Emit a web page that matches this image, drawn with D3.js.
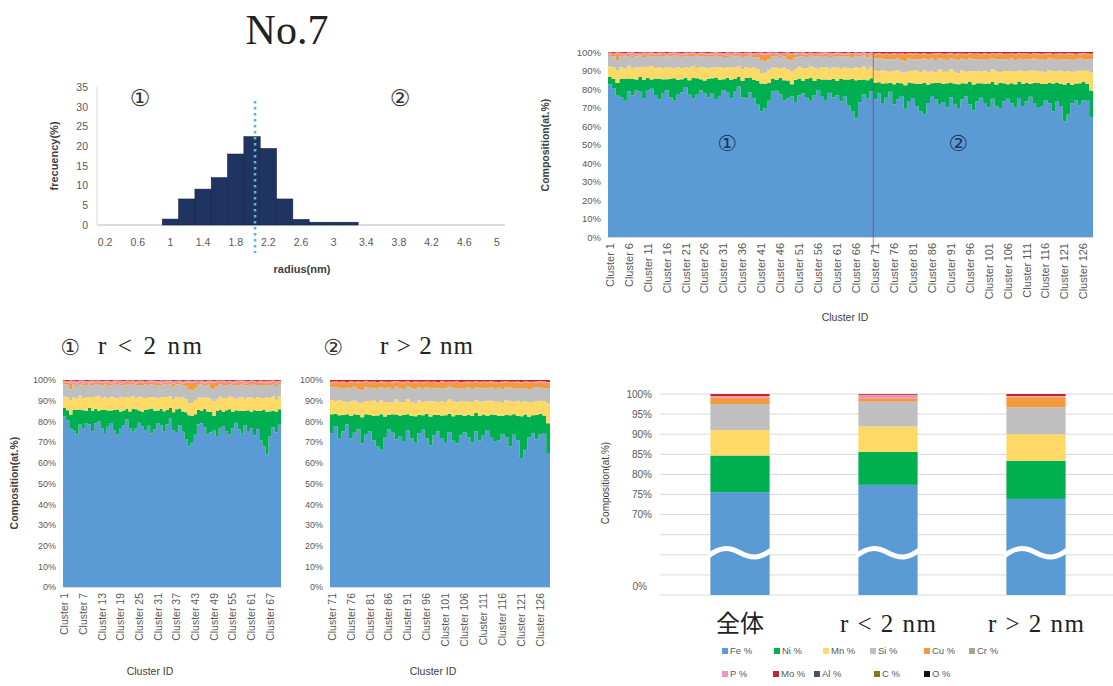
<!DOCTYPE html>
<html><head><meta charset="utf-8">
<script src="https://cdn.jsdelivr.net/npm/d3@7"></script>
<style>body{margin:0;background:#fff}svg{display:block}</style>
</head><body>
<svg id="c" width="1113" height="686"></svg>
<script>
// ---------- DATA ----------
// Histogram
const binLabels = ["0.2","0.4","0.6","0.8","1","1.2","1.4","1.6","1.8","2","2.2","2.4","2.6","2.8","3","3.2","3.4","3.6","3.8","4","4.2","4.4","4.6","4.8","5"];
const binTickLabels = ["0.2","0.6","1","1.4","1.8","2.2","2.6","3","3.4","3.8","4.2","4.6","5"];
const frequency = [0,0,0,0,1.5,6.6,9.1,12,18,22.4,19.4,6.6,1.4,0.7,0.7,0.7,0,0,0,0,0,0,0,0,0];
const freqTicks = [0,5,10,15,20,25,30,35];
const thresholdBin = "2";

// Cluster compositions (at.%), clusters 1..128 (1-70: r<2nm, 71-128: r>2nm)
const fe = [
82,81,78,75,74,79,77,80,78,76,
79,81,77,74,78,80,76,73,77,79,
81,78,75,77,80,79,76,78,74,77,
80,78,76,79,81,77,75,78,76,72,
68,70,75,78,80,77,74,76,79,73,
76,78,75,72,77,79,76,74,78,75,
77,73,76,70,66,62,72,76,74,78,
74,78,72,76,79,73,75,77,71,74,
76,72,68,66,73,77,75,72,74,70,
76,73,71,75,77,72,69,74,76,73,
71,75,72,70,74,76,73,71,75,72,
74,77,73,70,72,75,73,68,74,71,
62,66,73,75,72,74,76,63];
const ni = [
4,5,7,10,12,7,9,6,8,10,
7,5,9,11,8,6,10,12,8,7,
5,8,11,9,6,7,10,8,12,9,
6,8,10,7,5,9,11,8,10,13,
15,13,10,7,6,9,11,10,7,12,
9,7,10,12,8,6,9,11,7,10,
8,12,9,14,17,20,12,8,10,7,
9,6,11,8,5,11,9,7,13,10,
8,12,15,17,10,7,9,12,10,13,
8,11,13,9,7,12,14,10,8,11,
13,9,12,14,10,8,11,13,9,12,
10,7,11,13,12,9,11,15,10,12,
20,17,10,9,12,10,9,14];
const mn = [
5.5,6.2,7.0,6.1,5.4,6.8,5.9,6.6,5.2,6.9,
6.0,7.3,5.6,6.4,5.8,6.7,6.1,5.3,7.1,6.2,
5.7,6.9,6.3,5.5,6.6,7.2,5.9,6.0,5.4,6.8,
6.1,5.6,7.0,6.3,5.8,6.5,6.0,5.2,6.9,6.4,
5.7,6.2,7.1,5.9,6.6,5.3,6.8,6.0,7.4,5.6,
6.3,6.9,5.8,6.1,7.0,5.5,6.4,6.7,5.9,6.2,
7.2,5.6,6.5,6.0,5.4,6.8,6.3,7.0,5.7,6.1,
6.8,6.1,7.2,6.5,5.9,7.4,6.6,6.0,7.1,6.3,
6.9,7.5,6.2,6.7,7.0,6.4,5.8,7.3,6.6,6.1,
7.2,6.8,6.3,7.0,6.5,5.9,7.4,6.7,6.2,7.1,
6.4,6.9,7.3,6.0,6.6,7.2,6.5,6.8,6.1,7.0,
6.3,7.4,6.7,6.2,6.9,6.4,7.1,6.6,6.0,7.3,
6.8,6.2,7.0,6.5,6.9,6.3,7.2,9.5];
const si = [
5.8,6.2,5.5,6.0,6.7,5.3,6.1,5.9,6.4,5.6,
6.0,5.4,6.3,5.8,6.6,5.7,6.2,6.9,5.5,6.1,
5.9,6.4,5.6,6.2,5.8,6.0,6.5,5.7,6.3,5.9,
6.1,5.6,6.4,6.0,5.7,6.2,5.9,6.6,5.8,6.3,
6.8,6.1,5.7,6.0,6.4,5.9,6.2,5.6,6.0,6.5,
5.8,6.3,6.1,5.7,6.2,6.6,5.9,6.0,6.4,5.8,
6.1,6.7,5.9,6.3,6.0,5.6,6.2,5.8,6.5,6.0,
6.4,6.9,6.1,6.6,7.0,6.3,6.8,6.5,6.2,6.7,
6.4,6.0,6.9,6.3,6.6,7.1,6.5,6.2,6.8,6.4,
6.1,6.7,6.9,6.3,6.5,7.0,6.2,6.6,6.8,6.4,
6.7,6.1,6.5,6.9,6.3,6.6,7.0,6.4,6.2,6.8,
6.5,6.1,6.7,6.3,6.9,6.6,6.2,6.8,6.4,6.0,
6.7,6.5,6.3,6.9,6.6,6.2,6.4,7.0];
const cu = [
0.8,1.2,3.0,1.0,0.6,1.4,0.9,1.1,0.7,1.3,
1.0,0.8,1.2,0.9,1.5,0.7,1.1,1.0,0.8,1.3,
0.9,1.2,1.0,0.7,1.4,1.1,0.8,1.0,1.2,0.9,
1.3,1.0,0.8,1.1,0.9,1.5,1.2,0.8,1.0,1.9,
3.2,3.8,2.6,1.3,1.0,0.9,1.2,2.8,3.4,1.5,
1.1,0.9,1.3,1.0,0.8,1.2,1.0,1.4,0.9,1.1,
1.3,0.8,1.0,1.2,1.5,0.9,1.1,1.0,1.3,0.8,
2.1,2.6,2.3,3.0,2.4,2.8,2.2,3.4,3.8,2.9,
2.5,3.1,2.7,2.3,2.9,2.6,3.2,2.4,2.8,3.0,
2.5,2.7,3.3,2.6,2.9,2.4,3.1,2.8,2.5,3.0,
2.7,2.3,2.9,3.2,2.6,2.8,2.4,3.0,2.7,2.5,
3.1,2.8,2.6,2.9,2.4,3.3,2.7,2.5,3.0,2.8,
2.6,2.9,3.2,2.7,2.4,3.0,2.8,2.6];
const p = [
1.0,0.6,1.4,0.8,1.2,0.5,1.6,0.9,0.7,1.1,
0.6,1.3,0.8,1.0,0.5,1.2,0.9,0.7,1.4,0.8,
1.1,0.6,0.9,1.3,0.7,1.0,0.8,1.2,0.6,1.1,
0.9,1.4,0.7,1.0,0.8,1.2,0.6,0.9,1.1,0.7,
1.0,0.8,1.3,0.6,0.9,1.2,0.7,1.0,0.8,1.1,
0.6,1.3,0.9,0.7,1.0,0.8,1.2,0.6,1.4,0.9,
0.7,1.1,0.8,1.0,0.6,1.2,0.9,0.7,1.1,0.8,
0.4,0.3,0.5,0.2,0.4,0.6,0.3,0.5,0.4,0.2,
0.5,0.3,0.4,0.6,0.3,0.2,0.5,0.4,0.3,0.5,
0.2,0.4,0.6,0.3,0.5,0.4,0.2,0.3,0.5,0.4,
0.6,0.3,0.4,0.2,0.5,0.3,0.4,0.6,0.3,0.5,
0.2,0.4,0.3,0.5,0.4,0.6,0.3,0.2,0.4,0.5,
0.3,0.4,0.6,0.2,0.5,0.3,0.4,0.3];
const mo = [
0.3,0.5,0.2,0.4,0.6,0.3,0.2,0.5,0.4,0.3,
0.4,0.2,0.5,0.3,0.4,0.6,0.3,0.2,0.4,0.5,
0.3,0.4,0.2,0.5,0.3,0.4,0.6,0.3,0.2,0.4,
0.5,0.3,0.4,0.2,0.3,0.5,0.4,0.3,0.6,0.4,
0.3,0.5,0.2,0.4,0.3,0.6,0.4,0.2,0.5,0.3,
0.4,0.2,0.5,0.3,0.6,0.4,0.3,0.2,0.4,0.5,
0.3,0.4,0.6,0.2,0.5,0.3,0.4,0.2,0.5,0.3,
0.8,0.6,0.9,0.7,1.0,0.6,0.8,0.7,0.9,0.5,
0.8,0.7,1.0,0.6,0.9,0.8,0.7,0.5,0.9,0.8,
0.6,1.0,0.7,0.8,0.9,0.6,0.8,0.7,1.0,0.5,
0.9,0.7,0.8,0.6,1.0,0.8,0.7,0.9,0.6,0.8,
0.7,0.9,0.5,0.8,1.0,0.7,0.6,0.9,0.8,0.7,
1.0,0.6,0.8,0.9,0.7,0.5,0.8,0.9];
const splitCluster = 70;
const ticksAll = [1,6,11,16,21,26,31,36,41,46,51,56,61,66,71,76,81,86,91,96,101,106,111,116,121,126];
const ticksR1 = [1,7,13,19,25,31,37,43,49,55,61,67];
const ticksR2 = [71,76,81,86,91,96,101,106,111,116,121,126];
const pctTicks = [0,10,20,30,40,50,60,70,80,90,100];

// Averages bar chart
const groups = ["全体", "r < 2 nm", "r > 2 nm"];
const barFe = [75.6, 77.4, 73.9];
const barNi = [9.1, 8.2, 9.5];
const barMn = [6.3, 6.3, 6.6];
const barSi = [6.5, 6.2, 6.7];
const barCu = [1.5, 0.8, 2.5];
const barCr = [0.1, 0.1, 0.1];
const barP  = [0.4, 0.8, 0.2];
const barMo = [0.5, 0.2, 0.5];
const barAl = [0, 0, 0];
const barC  = [0, 0, 0];
const barO  = [0, 0, 0];
const barTicks = [70,75,80,85,90,95,100];
const barGrid = [50,55,60,65,70,75,80,85,90,95,100];

const elements = ["Fe %","Ni %","Mn %","Si %","Cu %","Cr %","P %","Mo %","Al %","C %","O %"];

// ---------- STYLE ----------
const colors = {fe:"#5b9bd5", ni:"#00b050", mn:"#ffd966", si:"#bfbfbf", cu:"#f39a3c", cr:"#9aae86",
                p:"#ee93c0", mo:"#c0282d", al:"#44546a", c:"#7f7a1f", o:"#111111"};
const elemKeys = ["fe","ni","mn","si","cu","cr","p","mo","al","c","o"];
const SANS = "Liberation Sans, Arial, sans-serif";
const SERIF = "Liberation Serif, Times New Roman, serif";
const TXT = "#595959";

const svg = d3.select("#c");

// ---------- HISTOGRAM ----------
(function(){
  const g = svg.append("g");
  g.append("text").attr("x",287).attr("y",44).attr("text-anchor","middle")
    .attr("font-family",SERIF).attr("font-size",42).attr("fill","#222").text("No.7");
  const x = d3.scaleBand().domain(binLabels).range([97,505]).padding(0);
  const y = d3.scaleLinear().domain([0,35]).range([225,87]);
  g.append("line").attr("x1",97).attr("x2",97).attr("y1",y(35)).attr("y2",y(0)).attr("stroke","#d9d9d9");
  g.append("line").attr("x1",97).attr("x2",505).attr("y1",y(0)).attr("y2",y(0)).attr("stroke","#d0d0d0").attr("stroke-width",1.5);
  const ya = g.append("g").attr("transform","translate(97,0)")
    .call(d3.axisLeft(y).tickValues(freqTicks).tickSize(0).tickPadding(9));
  ya.select(".domain").remove();
  ya.selectAll("text").attr("font-family",SANS).attr("font-size",10.5).attr("fill",TXT);
  const xa = g.append("g").attr("transform",`translate(0,${y(0)})`)
    .call(d3.axisBottom(x).tickValues(binTickLabels).tickSize(0).tickPadding(14));
  xa.select(".domain").remove();
  xa.selectAll("text").attr("font-family",SANS).attr("font-size",10.5).attr("fill",TXT);
  g.selectAll("rect.bar").data(binLabels.map((b,i)=>({b, v:frequency[i]})).filter(d=>d.v>0))
    .join("rect").attr("class","bar")
    .attr("x",d=>x(d.b)).attr("width",x.bandwidth())
    .attr("y",d=>y(d.v)).attr("height",d=>y(0)-y(d.v))
    .attr("fill","#1f3461").attr("stroke","#142445").attr("stroke-width",0.6);
  const tx = x(thresholdBin)+x.bandwidth()/2+3;
  g.append("line").attr("x1",tx).attr("x2",tx).attr("y1",101).attr("y2",253)
    .attr("stroke","#5bb3d9").attr("stroke-width",2.6).attr("stroke-dasharray","2.5,3.5");
  g.append("text").attr("transform","translate(58,156) rotate(-90)")
    .attr("text-anchor","middle").attr("font-family",SANS).attr("font-weight","bold")
    .attr("font-size",11).attr("fill","#404040").text("frecuency(%)");
  g.append("text").attr("x",302).attr("y",273).attr("text-anchor","middle")
    .attr("font-family",SANS).attr("font-weight","bold").attr("font-size",11).attr("fill","#404040").text("radius(nm)");
  g.append("text").attr("x",140).attr("y",106).attr("text-anchor","middle")
    .attr("font-family","DejaVu Sans").attr("font-size",23).attr("fill","#333").text("①");
  g.append("text").attr("x",400).attr("y",106).attr("text-anchor","middle")
    .attr("font-family","DejaVu Sans").attr("font-size",23).attr("fill","#333").text("②");
})();

// ---------- STACKED CLUSTER CHARTS ----------
const areaKeys = ["fe","ni","mn","si","cu","p","mo"];
const areaSrc = {fe, ni, mn, si, cu, p, mo};
function clusterChart(cfg){
  const g = svg.append("g");
  const rows = d3.range(cfg.from, cfg.to).map(i=>{
    const r = {id:i+1}; areaKeys.forEach(k=>r[k]=areaSrc[k][i]); return r;});
  const x = d3.scaleBand().domain(rows.map(r=>r.id)).range([cfg.x0,cfg.x1]).padding(0);
  const y = d3.scaleLinear().domain([0,1]).range([cfg.yb,cfg.yt]);
  const yp = d3.scaleLinear().domain([0,100]).range([cfg.yb,cfg.yt]);
  const series = d3.stack().keys(areaKeys).offset(d3.stackOffsetExpand)(rows);
  const area = d3.area().x(q=>q.x).y0(q=>y(q.a)).y1(q=>y(q.b));
  series.forEach(s=>{
    const pts = s.flatMap(d=>[{x:x(d.data.id),a:d[0],b:d[1]},{x:x(d.data.id)+x.bandwidth(),a:d[0],b:d[1]}]);
    g.append("path").attr("d",area(pts)).attr("fill",colors[s.key]);
  });
  const ya = g.append("g").attr("transform",`translate(${cfg.x0},0)`)
    .call(d3.axisLeft(yp).tickValues(pctTicks).tickFormat(d=>d+"%").tickSize(0).tickPadding(cfg.tickPad));
  ya.select(".domain").remove();
  ya.selectAll("text").attr("font-family",SANS).attr("font-size",cfg.fs).attr("fill",TXT);
  const xa = g.append("g").attr("transform",`translate(0,${cfg.yb})`)
    .call(d3.axisBottom(x).tickValues(cfg.ticks).tickFormat(d=>"Cluster "+d).tickSize(0));
  xa.select(".domain").attr("stroke","#d9d9d9");
  xa.selectAll("text").attr("transform","rotate(-90)").attr("text-anchor","end")
    .attr("x",-6).attr("y",0).attr("dy","0.35em")
    .attr("font-family",SANS).attr("font-size",cfg.xfs).attr("fill",TXT);
  g.append("text").attr("x",cfg.idX).attr("y",cfg.idY).attr("text-anchor","middle")
    .attr("font-family",SANS).attr("font-size",10.5).attr("fill","#404040").text("Cluster ID");
  if (cfg.yTitle) {
    g.append("text").attr("transform",`translate(${cfg.yTitle[0]},${cfg.yTitle[1]}) rotate(-90)`)
      .attr("text-anchor","middle").attr("font-family",SANS).attr("font-weight","bold")
      .attr("font-size",10.5).attr("fill","#404040").text("Composition(at.%)");
  }
  return {g, x, y};
}

const topChart = clusterChart({from:0,to:128,x0:608,x1:1093,yb:237,yt:52,ticks:ticksAll,tickPad:7,fs:9.5,xfs:11,
  idX:845,idY:321,yTitle:[549,145]});
const sx = topChart.x(splitCluster+1);
topChart.g.append("line").attr("x1",sx).attr("x2",sx).attr("y1",52).attr("y2",250)
  .attr("stroke","#6d3f5a").attr("stroke-width",1).attr("opacity",0.6);
topChart.g.append("text").attr("x",727).attr("y",151).attr("text-anchor","middle")
  .attr("font-family","DejaVu Sans").attr("font-size",22).attr("fill","#1f3864").text("①");
topChart.g.append("text").attr("x",958).attr("y",151).attr("text-anchor","middle")
  .attr("font-family","DejaVu Sans").attr("font-size",22).attr("fill","#1f3864").text("②");

clusterChart({from:0,to:splitCluster,x0:63,x1:281,yb:587,yt:380,ticks:ticksR1,tickPad:7,fs:9,xfs:10.5,
  idX:150,idY:675,yTitle:[18,483]});
clusterChart({from:splitCluster,to:128,x0:330,x1:550,yb:587,yt:380,ticks:ticksR2,tickPad:7,fs:9,xfs:10.5,
  idX:433,idY:675,yTitle:null});

function subTitle(cx, txt, x0, len){
  svg.append("text").attr("x",cx).attr("y",355).attr("text-anchor","middle")
    .attr("font-family","DejaVu Sans").attr("font-size",22).attr("fill","#333").text(txt[0]);
  svg.append("text").attr("x",x0).attr("y",354).attr("font-family",SERIF).attr("font-size",25)
    .attr("fill","#222").attr("textLength",len).attr("lengthAdjust","spacing").text(txt[1]);
}
subTitle(70, ["①","r < 2 nm"], 98, 104);
subTitle(333, ["②","r > 2 nm"], 380, 93);

// ---------- AVERAGE BAR CHART ----------
(function(){
  const g = svg.append("g");
  const src = {fe:barFe, ni:barNi, mn:barMn, si:barSi, cu:barCu, cr:barCr, p:barP, mo:barMo, al:barAl, c:barC, o:barO};
  const rows = groups.map((gr,i)=>{const r={g:gr}; elemKeys.forEach(k=>r[k]=src[k][i]); return r;});
  const x = d3.scaleBand().domain(groups).range([666,1110]).paddingInner(0.6).paddingOuter(0.3);
  const y = d3.scaleLinear().domain([50,100]).range([595,394]).clamp(true);
  g.selectAll("line.grid").data(barGrid).join("line").attr("class","grid")
    .attr("x1",660).attr("x2",1113).attr("y1",d=>y(d)).attr("y2",d=>y(d))
    .attr("stroke","#d9d9d9").attr("stroke-width",1);
  const ya = g.append("g").attr("transform","translate(656,0)")
    .call(d3.axisLeft(y).tickValues(barTicks).tickFormat(d=>d+"%").tickSize(0).tickPadding(4));
  ya.select(".domain").remove();
  ya.selectAll("text").attr("font-family",SANS).attr("font-size",10).attr("fill",TXT);
  g.append("text").attr("x",647).attr("y",y(52)).attr("dy","0.32em").attr("text-anchor","end")
    .attr("font-family",SANS).attr("font-size",10).attr("fill",TXT).text("0%");
  const series = d3.stack().keys(elemKeys)(rows);
  series.forEach(s=>{
    g.selectAll(null).data(s).join("rect")
      .attr("x",d=>x(d.data.g)).attr("width",x.bandwidth())
      .attr("y",d=>y(d[1])).attr("height",d=>Math.max(0,y(d[0])-y(d[1])))
      .attr("fill",colors[s.key]);
  });
  const yb = y(60.5);
  groups.forEach(gr=>{
    const x0 = x(gr)-2, w = x.bandwidth()+4;
    const path = `M${x0},${yb+3} C${x0+w*0.18},${yb-6} ${x0+w*0.32},${yb-6} ${x0+w*0.5},${yb} S${x0+w*0.82},${yb+6} ${x0+w},${yb-3}`;
    g.append("path").attr("d",path).attr("fill","none").attr("stroke","#fff").attr("stroke-width",5);
  });
  g.append("text").attr("transform","translate(609,483) rotate(-90)").attr("text-anchor","middle")
    .attr("font-family",SANS).attr("font-size",10).attr("fill","#404040").text("Composition(at.%)");
  groups.forEach((gr,i)=>{
    const cx = x(gr)+x.bandwidth()/2;
    const t = g.append("text").attr("x",cx).attr("y",632).attr("text-anchor","middle").attr("fill","#222");
    if (i===0) t.attr("font-family","Noto Sans CJK JP").attr("font-size",24).text(gr);
    else t.attr("font-family",SERIF).attr("font-size",25).attr("textLength",96).attr("lengthAdjust","spacing").text(gr);
  });
  const legX = [[725,777,826,873,927,972],[725,776,817,877,927]];
  const legY = [651,674];
  elements.forEach((e,i)=>{
    const row = i<6?0:1, col = i<6?i:i-6;
    const lx = legX[row][col], ly = legY[row];
    g.append("rect").attr("x",lx-3).attr("y",ly-3).attr("width",6).attr("height",6).attr("fill",colors[elemKeys[i]]);
    g.append("text").attr("x",lx+5).attr("y",ly).attr("dy","0.35em")
      .attr("font-family",SANS).attr("font-size",9.5).attr("fill",TXT).text(e);
  });
})();
</script>
</body></html>
